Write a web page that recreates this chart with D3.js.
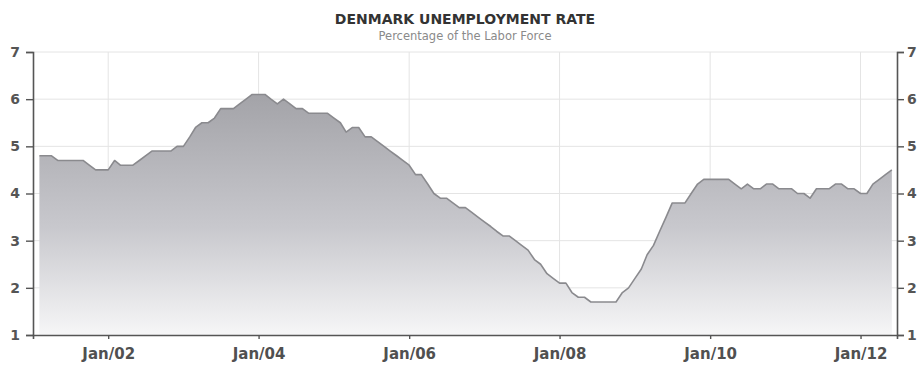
<!DOCTYPE html>
<html>
<head>
<meta charset="utf-8">
<script src="https://cdn.jsdelivr.net/npm/d3@7"></script>
<style>
  html, body { margin: 0; padding: 0; background: #fff; }
  svg { display: block; }
  .tick text { font-family: "DejaVu Sans", Verdana, sans-serif; }
</style>
</head>
<body>
<div id="chart"></div>
<script>
// Denmark unemployment rate, monthly, % of labour force (Feb 2001 – Jun 2012)
const startMonth = [2001, 1]; // year, zero-based month of first value (Feb 2001)
const rates = [
  4.8, 4.8, 4.8, 4.7, 4.7, 4.7, 4.7, 4.7, 4.6, 4.5, 4.5,           // 2001 Feb–Dec
  4.5, 4.7, 4.6, 4.6, 4.6, 4.7, 4.8, 4.9, 4.9, 4.9, 4.9, 5.0,      // 2002
  5.0, 5.2, 5.4, 5.5, 5.5, 5.6, 5.8, 5.8, 5.8, 5.9, 6.0, 6.1,      // 2003
  6.1, 6.1, 6.0, 5.9, 6.0, 5.9, 5.8, 5.8, 5.7, 5.7, 5.7, 5.7,      // 2004
  5.6, 5.5, 5.3, 5.4, 5.4, 5.2, 5.2, 5.1, 5.0, 4.9, 4.8, 4.7,      // 2005
  4.6, 4.4, 4.4, 4.2, 4.0, 3.9, 3.9, 3.8, 3.7, 3.7, 3.6, 3.5,      // 2006
  3.4, 3.3, 3.2, 3.1, 3.1, 3.0, 2.9, 2.8, 2.6, 2.5, 2.3, 2.2,      // 2007
  2.1, 2.1, 1.9, 1.8, 1.8, 1.7, 1.7, 1.7, 1.7, 1.7, 1.9, 2.0,      // 2008
  2.2, 2.4, 2.7, 2.9, 3.2, 3.5, 3.8, 3.8, 3.8, 4.0, 4.2, 4.3,      // 2009
  4.3, 4.3, 4.3, 4.3, 4.2, 4.1, 4.2, 4.1, 4.1, 4.2, 4.2, 4.1,      // 2010
  4.1, 4.1, 4.0, 4.0, 3.9, 4.1, 4.1, 4.1, 4.2, 4.2, 4.1, 4.1,      // 2011
  4.0, 4.0, 4.2, 4.3, 4.4, 4.5                                     // 2012 Jan–Jun
];
const yTicks = [1, 2, 3, 4, 5, 6, 7];
const xTickYears = [2002, 2004, 2006, 2008, 2010, 2012];
const titleText = "DENMARK UNEMPLOYMENT RATE";
const subtitleText = "Percentage of the Labor Force";

const data = rates.map((v, i) => ({
  date: new Date(startMonth[0], startMonth[1] + i, 1),
  value: v
}));

const W = 924, H = 369;
const margin = { top: 52, right: 27, bottom: 34, left: 33 };
const iw = W - margin.left - margin.right;
const ih = H - margin.top - margin.bottom;

const svg = d3.select("#chart").append("svg")
  .attr("width", W).attr("height", H);

const x = d3.scaleTime()
  .domain([new Date(2001, 0, 1), new Date(2012, 5, 26)])
  .range([0, iw]);
const y = d3.scaleLinear().domain([1, 7]).range([ih, 0]);

const defs = svg.append("defs");
const grad = defs.append("linearGradient")
  .attr("id", "areaFill")
  .attr("gradientUnits", "userSpaceOnUse")
  .attr("x1", 0).attr("x2", 0)
  .attr("y1", y(6.1)).attr("y2", y(1));
grad.append("stop").attr("offset", "0%").attr("stop-color", "#a3a3a8");
grad.append("stop").attr("offset", "55%").attr("stop-color", "#c8c8cd");
grad.append("stop").attr("offset", "100%").attr("stop-color", "#f6f6f7");

const g = svg.append("g").attr("transform", `translate(${margin.left},${margin.top})`);

// grid
const xTickDates = xTickYears.map(yr => new Date(yr, 0, 1));
g.append("g").selectAll("line.h").data(yTicks.slice(1)).join("line")
  .attr("x1", 0).attr("x2", iw)
  .attr("y1", d => y(d)).attr("y2", d => y(d))
  .attr("stroke", "#e4e4e4").attr("stroke-width", 1);
g.append("g").selectAll("line.v").data(xTickDates).join("line")
  .attr("x1", d => x(d)).attr("x2", d => x(d))
  .attr("y1", 0).attr("y2", ih)
  .attr("stroke", "#e4e4e4").attr("stroke-width", 1);

// area + line
const area = d3.area()
  .x(d => x(d.date)).y0(ih).y1(d => y(d.value));
const line = d3.line()
  .x(d => x(d.date)).y(d => y(d.value));

g.append("path").datum(data)
  .attr("d", area)
  .attr("fill", "url(#areaFill)");
g.append("path").datum(data)
  .attr("d", line)
  .attr("fill", "none")
  .attr("stroke", "#8a8a8e")
  .attr("stroke-width", 1.6)
  .attr("stroke-linejoin", "round");

// axes
function styleAxis(sel) {
  sel.select(".domain").attr("stroke", "#555").attr("stroke-width", 1.6);
  sel.selectAll(".tick line").attr("stroke", "#555").attr("stroke-width", 1.4);
  sel.selectAll(".tick text")
    .attr("fill", "#555")
    .style("font-size", "14px")
    .style("font-weight", "bold");
}

const yLeft = g.append("g")
  .call(d3.axisLeft(y).tickValues(yTicks).tickFormat(d3.format("d")).tickSizeOuter(0).tickSize(7).tickPadding(6));
styleAxis(yLeft);

const yRight = g.append("g").attr("transform", `translate(${iw},0)`)
  .call(d3.axisRight(y).tickValues(yTicks).tickFormat(d3.format("d")).tickSizeOuter(0).tickSize(7).tickPadding(3));
styleAxis(yRight);

const xAxis = g.append("g").attr("transform", `translate(0,${ih})`)
  .call(d3.axisBottom(x).tickValues(xTickDates).tickFormat(d3.timeFormat("%b/%y")).tickSizeOuter(0).tickSize(4).tickPadding(9));
styleAxis(xAxis);
xAxis.selectAll(".tick text").style("font-size", "15px").attr("fill", "#505050");

// titles
svg.append("text")
  .attr("x", 465).attr("y", 24)
  .attr("text-anchor", "middle")
  .attr("font-family", "'DejaVu Sans', Verdana, sans-serif")
  .attr("font-weight", "bold")
  .attr("font-size", 14)
  .attr("fill", "#333")
  .text(titleText);
svg.append("text")
  .attr("x", 465).attr("y", 40)
  .attr("text-anchor", "middle")
  .attr("font-family", "'DejaVu Sans', Verdana, sans-serif")
  .attr("font-size", 11.5)
  .attr("fill", "#8a8a8a")
  .text(subtitleText);
</script>
</body>
</html>
